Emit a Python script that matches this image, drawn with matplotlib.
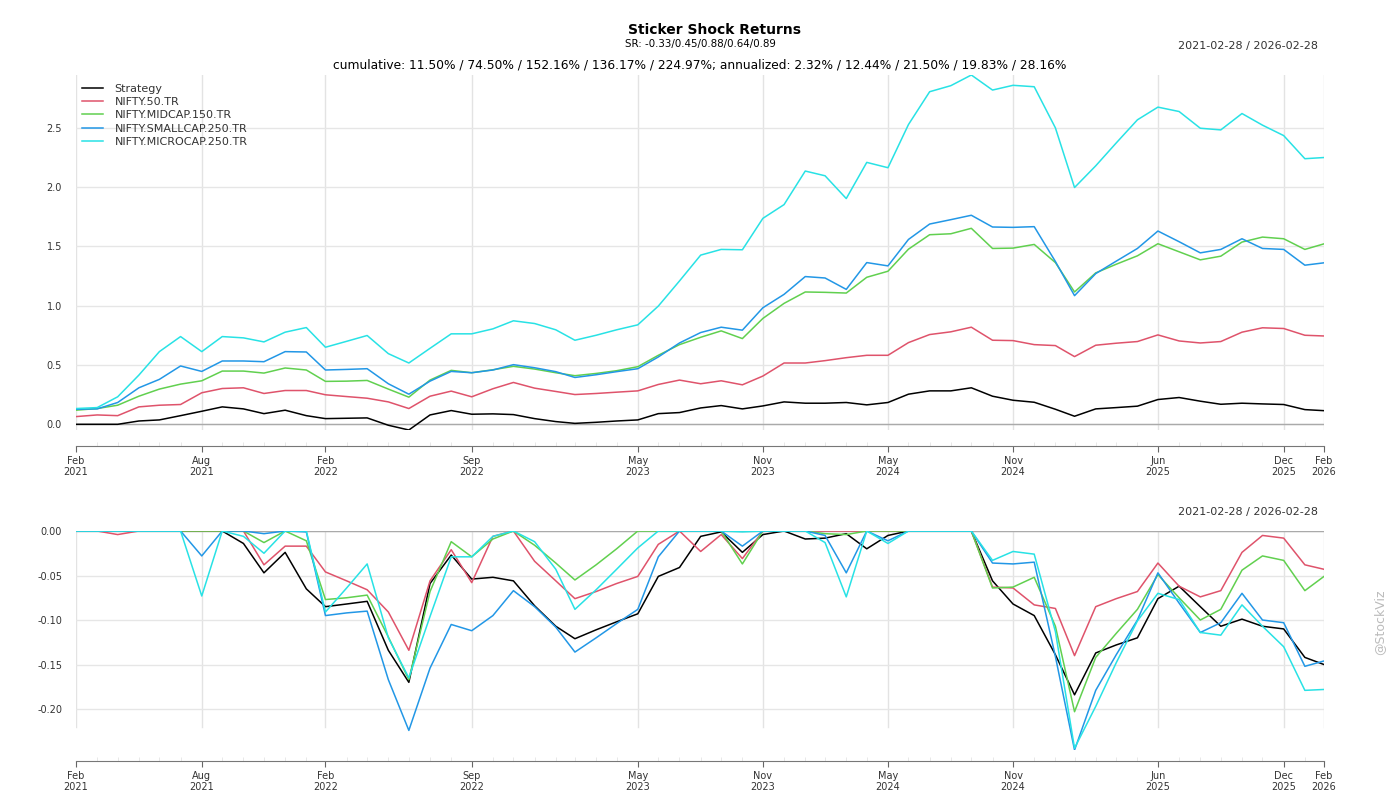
import pandas as pd
import matplotlib
matplotlib.use("Agg")
import matplotlib.pyplot as plt

# monthly points, 2021-02-28 .. 2026-02-28
dates = pd.date_range("2021-02-28", periods=61, freq="ME")

series_names = ["Strategy", "NIFTY.50.TR", "NIFTY.MIDCAP.150.TR", "NIFTY.SMALLCAP.250.TR", "NIFTY.MICROCAP.250.TR"]
series_colors = ["#000000", "#DF536B", "#61D04F", "#2297E6", "#28E2E5"]

# cumulative returns
strategy_cum = [0.0, 0.0, 0.0, 0.028, 0.037, 0.073, 0.11, 0.147, 0.13, 0.09, 0.119, 0.073, 0.048, 0.051, 0.054,
                -0.008, -0.048, 0.079, 0.116, 0.085, 0.088,
                0.082, 0.048, 0.023, 0.008, 0.017, 0.028, 0.037, 0.09, 0.099, 0.138, 0.158, 0.13, 0.155, 0.189,
                0.178, 0.178, 0.184, 0.164, 0.184, 0.254,
                0.282, 0.282, 0.308, 0.237, 0.203, 0.186, 0.127, 0.068, 0.13, 0.141, 0.153, 0.209, 0.226, 0.195,
                0.169, 0.178, 0.172, 0.167, 0.124, 0.115]
nifty50_cum = [0.065, 0.079, 0.073, 0.147, 0.161, 0.167, 0.266, 0.302, 0.308, 0.26, 0.285, 0.285, 0.249, 0.234, 0.22,
               0.189, 0.133, 0.237, 0.28, 0.232, 0.30,
               0.353, 0.305, 0.277, 0.251, 0.26, 0.271, 0.282, 0.336, 0.373, 0.342, 0.367, 0.333, 0.407, 0.517,
               0.517, 0.537, 0.562, 0.582, 0.582, 0.689,
               0.757, 0.78, 0.819, 0.709, 0.706, 0.672, 0.664, 0.571, 0.667, 0.684, 0.698, 0.754, 0.703, 0.686,
               0.698, 0.777, 0.814, 0.808, 0.751, 0.745]
midcap_cum = [0.119, 0.133, 0.161, 0.237, 0.297, 0.339, 0.367, 0.449, 0.449, 0.432, 0.475, 0.458, 0.362, 0.364, 0.37,
              0.297, 0.229, 0.373, 0.455, 0.435, 0.46,
              0.489, 0.466, 0.435, 0.41, 0.429, 0.452, 0.486, 0.582, 0.672, 0.734, 0.788, 0.723, 0.893, 1.02,
              1.116, 1.113, 1.107, 1.24, 1.291, 1.477,
              1.599, 1.607, 1.653, 1.483, 1.486, 1.517, 1.364, 1.116, 1.277, 1.35, 1.421, 1.523, 1.455, 1.387,
              1.418, 1.537, 1.579, 1.565, 1.475, 1.522]
smallcap_cum = [0.127, 0.13, 0.184, 0.308, 0.379, 0.492, 0.446, 0.534, 0.534, 0.528, 0.613, 0.61, 0.458, 0.463, 0.469,
                0.342, 0.254, 0.364, 0.446, 0.435, 0.458,
                0.503, 0.477, 0.444, 0.395, 0.418, 0.444, 0.469, 0.568, 0.686, 0.774, 0.819, 0.794, 0.983, 1.096,
                1.246, 1.234, 1.138, 1.364, 1.336, 1.559,
                1.689, 1.726, 1.763, 1.664, 1.661, 1.667, 1.373, 1.085, 1.271, 1.376, 1.483, 1.63, 1.54, 1.446,
                1.475, 1.565, 1.483, 1.475, 1.342, 1.362]
microcap_cum = [0.133, 0.141, 0.232, 0.415, 0.613, 0.74, 0.613, 0.74, 0.729, 0.695, 0.777, 0.816, 0.65, 0.70, 0.749,
                0.596, 0.517, 0.641, 0.763, 0.763, 0.805,
                0.873, 0.85, 0.797, 0.709, 0.751, 0.797, 0.839, 0.997, 1.209, 1.427, 1.475, 1.472, 1.737, 1.853,
                2.136, 2.096, 1.904, 2.209, 2.164, 2.528,
                2.805, 2.856, 2.946, 2.819, 2.859, 2.847, 2.5, 1.997, 2.18, 2.373, 2.568, 2.675, 2.638, 2.497,
                2.483, 2.621, 2.523, 2.435, 2.24, 2.25]

# drawdowns
strategy_dd = [0, 0, 0, 0, 0, 0, 0, 0, -0.014, -0.047, -0.024, -0.065, -0.085, -0.082, -0.079, -0.134, -0.170,
               -0.059, -0.027, -0.054, -0.052,
               -0.056, -0.084, -0.107, -0.121, -0.111, -0.102, -0.093, -0.051, -0.041, -0.006, -0.001, -0.024,
               -0.004, 0, -0.009, -0.008, -0.003, -0.020, -0.005, 0,
               0, 0, 0, -0.056, -0.082, -0.095, -0.139, -0.184, -0.137, -0.128, -0.120, -0.076, -0.062, -0.085,
               -0.107, -0.099, -0.107, -0.110, -0.142, -0.150]
nifty50_dd = [0, 0, -0.004, 0, 0, 0, 0, 0, 0, -0.038, -0.017, -0.017, -0.046, -0.056, -0.066, -0.091, -0.134,
              -0.056, -0.021, -0.058, -0.006,
              0, -0.034, -0.056, -0.076, -0.068, -0.059, -0.051, -0.015, 0, -0.023, -0.004, -0.031, 0, 0,
              0, 0, 0, 0, 0, 0,
              0, 0, 0, -0.063, -0.064, -0.083, -0.087, -0.140, -0.085, -0.076, -0.068, -0.036, -0.062, -0.074,
              -0.067, -0.024, -0.005, -0.008, -0.038, -0.043]
midcap_dd = [0, 0, 0, 0, 0, 0, 0, 0, 0, -0.013, 0, -0.011, -0.077, -0.075, -0.072, -0.119, -0.167,
             -0.068, -0.012, -0.029, -0.009,
             0, -0.016, -0.036, -0.055, -0.038, -0.020, 0, 0, 0, 0, 0, -0.037, 0, 0,
             0, -0.003, -0.004, 0, 0, 0,
             0, 0, 0, -0.064, -0.063, -0.052, -0.107, -0.203, -0.142, -0.115, -0.088, -0.049, -0.075, -0.100,
             -0.088, -0.044, -0.028, -0.033, -0.067, -0.051]
smallcap_dd = [0, 0, 0, 0, 0, 0, -0.028, 0, 0, -0.003, 0, -0.001, -0.095, -0.092, -0.090, -0.167, -0.224,
               -0.154, -0.105, -0.112, -0.095,
               -0.067, -0.085, -0.108, -0.136, -0.120, -0.104, -0.088, -0.029, 0, 0, 0, -0.017, 0, 0,
               0, -0.005, -0.047, 0, -0.011, 0,
               0, 0, 0, -0.036, -0.037, -0.035, -0.141, -0.246, -0.179, -0.139, -0.100, -0.047, -0.081, -0.114,
               -0.103, -0.070, -0.100, -0.103, -0.152, -0.146]
microcap_dd = [0, 0, 0, 0, 0, 0, -0.073, 0, -0.006, -0.025, 0, 0, -0.091, -0.064, -0.037, -0.120, -0.165,
               -0.096, -0.029, -0.029, -0.006,
               0, -0.012, -0.043, -0.088, -0.066, -0.043, -0.019, 0, 0, 0, 0, -0.001, 0, 0,
               0, -0.013, -0.074, 0, -0.014, 0,
               0, 0, 0, -0.033, -0.023, -0.026, -0.113, -0.244, -0.197, -0.148, -0.101, -0.070, -0.077, -0.114,
               -0.117, -0.083, -0.107, -0.130, -0.179, -0.178]

# labelled x ticks (month index)
tick_idx = [0, 6, 12, 19, 27, 33, 39, 45, 52, 58, 60]

cum_list = [strategy_cum, nifty50_cum, midcap_cum, smallcap_cum, microcap_cum]
dd_list = [strategy_dd, nifty50_dd, midcap_dd, smallcap_dd, microcap_dd]

plt.rcParams['font.family'] = ['DejaVu Sans']
fig = plt.figure(figsize=(14, 8), dpi=100)
ax1 = fig.add_axes([76 / 1400, 1 - 430 / 800, 1248 / 1400, 355 / 800])
ax2 = fig.add_axes([76 / 1400, 1 - 750 / 800, 1248 / 1400, 219 / 800])

tick_dates = dates[tick_idx]
tick_labels = [d.strftime("%b\n%Y") for d in tick_dates]


def style_axis(ax, offset, yfmt):
    ax.margins(x=0, y=0)
    for s in ["top", "right", "left"]:
        ax.spines[s].set_visible(False)
    ax.spines["bottom"].set_position(("outward", offset))
    ax.spines["bottom"].set_color("#777777")
    ax.set_xticks(tick_dates)
    ax.set_xticklabels(tick_labels)
    ax.set_xticks(dates, minor=True)
    ax.tick_params(axis="x", which="major", direction="out", length=4, color="#666666",
                   labelsize=7, labelcolor="#333333", pad=3)
    ax.tick_params(axis="x", which="minor", direction="in", length=3, color="#e4e4e4")
    ax.tick_params(axis="y", length=0, labelsize=7, labelcolor="#333333", pad=10)
    ax.yaxis.set_major_formatter(matplotlib.ticker.FormatStrFormatter(yfmt))
    ax.grid(axis="y", color="#e6e6e6", lw=1)
    ax.axhline(0, color="#aaaaaa", lw=1, zorder=1)
    ax.set_axisbelow(True)


# top panel: cumulative returns
for vals, name, col in zip(cum_list, series_names, series_colors):
    ax1.plot(dates, vals, color=col, lw=1.1, label=name)
style_axis(ax1, 11.5, "%.1f")
ax1.set_yticks([0.0, 0.5, 1.0, 1.5, 2.0, 2.5])
ax1.grid(axis="x", color="#e3e3e3", lw=1)
leg = ax1.legend(loc="upper left", bbox_to_anchor=(0.005, 0.976), frameon=False, fontsize=8,
                 handlelength=1.9, handletextpad=1.0, labelspacing=0.3, borderpad=0, borderaxespad=0)
for t in leg.get_texts():
    t.set_color("#333333")

# bottom panel: drawdowns
for vals, col in zip(dd_list, series_colors):
    ax2.plot(dates, vals, color=col, lw=1.1)
style_axis(ax2, 8, "%.2f")
ax2.set_yticks([0.0, -0.05, -0.10, -0.15, -0.20])
for d in tick_dates:
    ax2.axvline(d, ymin=0.105, ymax=1, color="#e3e3e3", lw=1, zorder=0)

fig.text(0.51, 0.963, "Sticker Shock Returns", ha="center", va="center", fontsize=10, fontweight="bold")
fig.text(0.5, 0.945, "SR: -0.33/0.45/0.88/0.64/0.89", ha="center", va="center", fontsize=7.4)
fig.text(0.5, 0.919, "cumulative: 11.50% / 74.50% / 152.16% / 136.17% / 224.97%; "
         "annualized: 2.32% / 12.44% / 21.50% / 19.83% / 28.16%", ha="center", va="center", fontsize=8.8)
fig.text(1318 / 1400, 1 - 45.5 / 800, "2021-02-28 / 2026-02-28", ha="right", va="center",
         fontsize=8, color="#333333")
fig.text(1318 / 1400, 1 - 512 / 800, "2021-02-28 / 2026-02-28", ha="right", va="center",
         fontsize=8, color="#333333")
fig.text(1380 / 1400, 1 - 622 / 800, "@StockViz", rotation=90, ha="center", va="center",
         fontsize=9, color="#bbbbbb")

fig.savefig("out.png", dpi=100)
